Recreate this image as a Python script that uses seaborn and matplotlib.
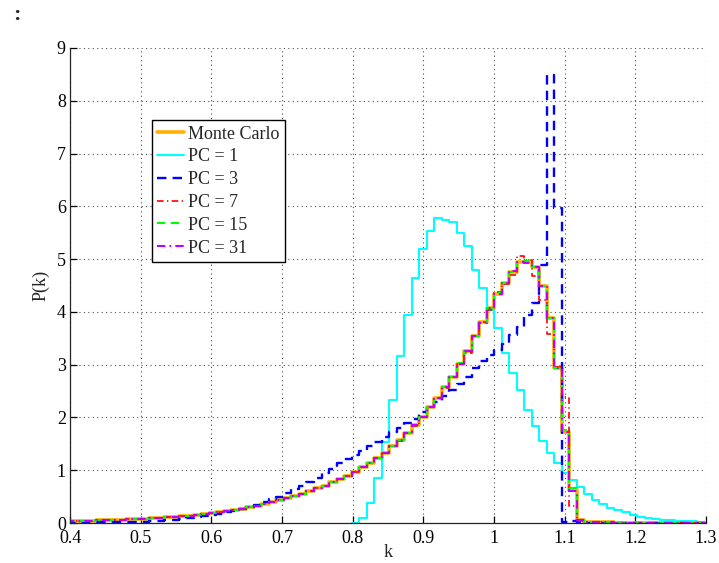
import numpy as np
import pandas as pd
import matplotlib
matplotlib.use("Agg")
import matplotlib.pyplot as plt
from matplotlib.lines import Line2D
import seaborn as sns

# Common histogram bin edges on the k axis (86 bins)
k_edges = np.round(0.3945 + 0.01063 * np.arange(87), 5)

# Probability density per bin, one list per curve
monte_carlo = [
    0.03, 0.03, 0.04, 0.04, 0.05, 0.05, 0.06, 0.06, 0.07, 0.08,
    0.08, 0.09, 0.10, 0.11, 0.12, 0.13, 0.14, 0.15, 0.17, 0.19,
    0.20, 0.22, 0.25, 0.27, 0.30, 0.33, 0.36, 0.39, 0.43, 0.47,
    0.51, 0.55, 0.60, 0.66, 0.71, 0.77, 0.83, 0.89, 0.97, 1.06,
    1.13, 1.23, 1.33, 1.45, 1.57, 1.71, 1.86, 2.00, 2.19, 2.37,
    2.57, 2.77, 3.01, 3.25, 3.54, 3.81, 4.07, 4.34, 4.55, 4.76,
    4.94, 4.95, 4.86, 4.49, 3.88, 2.94, 1.73, 0.62, 0.06, 0.02,
    0.01, 0.01, 0.01, 0.00, 0.00, 0.00, 0.00, 0.00, 0.00, 0.00,
    0.00, 0.00, 0.00, 0.00, 0.00, 0.00,
]

# PC = 1 only covers bins from index 38 onwards
pc1_first_bin = 38
pc1 = [
    0.00, 0.09, 0.37, 0.85, 1.54, 2.33, 3.16, 3.94, 4.65, 5.19,
    5.54, 5.77, 5.75, 5.70, 5.49, 5.24, 4.79, 4.45, 4.04, 3.69,
    3.23, 2.84, 2.52, 2.15, 1.84, 1.56, 1.33, 1.14, 0.95, 0.81,
    0.68, 0.55, 0.44, 0.36, 0.28, 0.24, 0.20, 0.15, 0.11, 0.09,
    0.07, 0.06, 0.05, 0.04, 0.03, 0.03, 0.02, 0.02,
]

pc3 = [
    0.00, 0.00, 0.00, 0.01, 0.01, 0.01, 0.01, 0.01, 0.01, 0.02,
    0.02, 0.03, 0.04, 0.05, 0.06, 0.07, 0.09, 0.11, 0.13, 0.15,
    0.18, 0.20, 0.23, 0.27, 0.31, 0.35, 0.40, 0.45, 0.50, 0.57,
    0.64, 0.71, 0.78, 0.86, 0.95, 1.03, 1.13, 1.21, 1.29, 1.37,
    1.45, 1.54, 1.63, 1.72, 1.80, 1.89, 1.98, 2.10, 2.20, 2.30,
    2.40, 2.52, 2.64, 2.77, 2.93, 3.06, 3.19, 3.28, 3.40, 3.56,
    3.72, 3.94, 4.17, 4.89, 8.49, 5.96, 0.02, 0.03, 0.01, 0.00,
    0.00, 0.00, 0.00, 0.00, 0.00, 0.00, 0.00, 0.00, 0.00, 0.00,
    0.00, 0.00, 0.00, 0.00, 0.00, 0.00,
]

pc7 = [
    0.03, 0.03, 0.04, 0.04, 0.05, 0.05, 0.06, 0.06, 0.07, 0.08,
    0.08, 0.09, 0.10, 0.11, 0.12, 0.13, 0.14, 0.15, 0.17, 0.19,
    0.20, 0.22, 0.25, 0.27, 0.30, 0.33, 0.36, 0.39, 0.43, 0.47,
    0.51, 0.55, 0.60, 0.66, 0.71, 0.77, 0.83, 0.89, 0.97, 1.06,
    1.13, 1.23, 1.33, 1.45, 1.55, 1.71, 1.84, 2.00, 2.19, 2.37,
    2.55, 2.77, 3.01, 3.22, 3.54, 3.81, 4.03, 4.38, 4.53, 4.70,
    5.05, 4.98, 4.68, 4.22, 3.58, 2.96, 2.39, 0.33, 0.04, 0.02,
    0.01, 0.01, 0.01, 0.00, 0.00, 0.00, 0.00, 0.00, 0.00, 0.00,
    0.00, 0.00, 0.00, 0.00, 0.00, 0.00,
]

pc15 = [
    0.03, 0.03, 0.04, 0.04, 0.05, 0.05, 0.06, 0.06, 0.07, 0.08,
    0.08, 0.09, 0.10, 0.11, 0.12, 0.13, 0.14, 0.15, 0.17, 0.19,
    0.20, 0.22, 0.25, 0.27, 0.30, 0.33, 0.36, 0.39, 0.43, 0.47,
    0.51, 0.55, 0.60, 0.66, 0.71, 0.77, 0.83, 0.89, 0.97, 1.06,
    1.13, 1.23, 1.33, 1.45, 1.57, 1.71, 1.86, 2.00, 2.19, 2.37,
    2.57, 2.77, 3.03, 3.25, 3.54, 3.81, 4.07, 4.36, 4.55, 4.76,
    4.95, 4.97, 4.86, 4.49, 3.88, 2.94, 1.76, 0.66, 0.06, 0.02,
    0.01, 0.01, 0.01, 0.00, 0.00, 0.00, 0.00, 0.00, 0.00, 0.00,
    0.00, 0.00, 0.00, 0.00, 0.00, 0.00,
]

pc31 = [
    0.03, 0.03, 0.04, 0.04, 0.05, 0.05, 0.06, 0.06, 0.07, 0.08,
    0.08, 0.09, 0.10, 0.11, 0.12, 0.13, 0.14, 0.15, 0.17, 0.19,
    0.20, 0.22, 0.25, 0.27, 0.30, 0.33, 0.36, 0.39, 0.43, 0.47,
    0.51, 0.55, 0.60, 0.66, 0.71, 0.77, 0.83, 0.89, 0.97, 1.06,
    1.13, 1.23, 1.33, 1.45, 1.57, 1.71, 1.86, 2.00, 2.19, 2.37,
    2.57, 2.77, 3.01, 3.25, 3.54, 3.79, 4.07, 4.34, 4.55, 4.78,
    4.94, 4.93, 4.86, 4.49, 3.88, 2.94, 1.73, 0.60, 0.06, 0.02,
    0.01, 0.01, 0.01, 0.00, 0.00, 0.00, 0.00, 0.00, 0.00, 0.00,
    0.00, 0.00, 0.00, 0.00, 0.00, 0.00,
]

x_ticks = [0.4, 0.5, 0.6, 0.7, 0.8, 0.9, 1.0, 1.1, 1.2, 1.3]
x_tick_labels = ["0.4", "0.5", "0.6", "0.7", "0.8", "0.9", "1", "1.1", "1.2", "1.3"]
y_ticks = list(range(10))

sns.set_style("white")
plt.rcParams["font.family"] = ["Liberation Serif", "DejaVu Serif"]

fig = plt.figure(figsize=(7.19, 5.63), dpi=100)
ax = fig.add_axes([70 / 719, 40 / 563, 636 / 719, 475 / 563])

# (label, values, first bin index, colour, linestyle, linewidth)
series = [
    ("Monte Carlo", monte_carlo, 0, "#FFB000", "-", 2.6),
    ("PC = 1", pc1, pc1_first_bin, "#00FFFF", "-", 1.5),
    ("PC = 3", pc3, 0, "#0000FF", (0, (4, 2.6)), 1.7),
    ("PC = 7", pc7, 0, "#FF0000", (0, (4, 2, 0.8, 2)), 1.2),
    ("PC = 15", pc15, 0, "#00FF00", (0, (4, 2.6)), 1.5),
    ("PC = 31", pc31, 0, "#C000FF", (0, (4, 2, 0.8, 2)), 1.5),
]

handles = []
for label, values, first, color, ls, lw in series:
    edges = k_edges[first:first + len(values) + 1]
    df = pd.DataFrame({
        "k": 0.5 * (edges[:-1] + edges[1:]),
        "p": np.asarray(values, dtype=float),
    })
    sns.histplot(data=df, x="k", weights="p", bins=list(edges),
                 element="step", fill=False, stat="count", color=color,
                 linestyle=ls, linewidth=lw, ax=ax)
    handles.append(Line2D([], [], color=color, linestyle=ls, linewidth=lw,
                          label=label))

ax.set_xlim(0.4, 1.3)
ax.set_ylim(0, 9)
ax.set_xticks(x_ticks)
ax.set_xticklabels(x_tick_labels)
ax.set_yticks(y_ticks)
ax.set_xlabel("k", fontsize=13, labelpad=-2)
ax.set_ylabel("P(k)", fontsize=13, labelpad=5)

ax.grid(True, which="major", linestyle=(0, (1, 3)), color="0.3", linewidth=0.8)
ax.set_axisbelow(True)
for side in ("top", "right"):
    ax.spines[side].set_visible(False)
for side in ("left", "bottom"):
    ax.spines[side].set_color("0.15")
    ax.spines[side].set_linewidth(0.9)
ax.tick_params(axis="both", direction="in", length=5, width=0.9,
               labelsize=13, colors="black", bottom=True, left=True,
               top=False, right=False)
ax.tick_params(axis="x", pad=5)
ax.tick_params(axis="y", pad=3)

leg = ax.legend(handles=handles, loc="upper left",
                bbox_to_anchor=(0.1285, 0.848), borderaxespad=0,
                fontsize=13, frameon=True, fancybox=False,
                edgecolor="black", framealpha=1, handlelength=1.5,
                handletextpad=0.22, labelspacing=0.32, borderpad=0.3)
leg.get_frame().set_linewidth(1.0)

fig.text(17 / 719, 1 - 15 / 563, ":", ha="center", va="center",
         fontsize=16, fontweight="bold")

fig.savefig("out.png", dpi=100)
